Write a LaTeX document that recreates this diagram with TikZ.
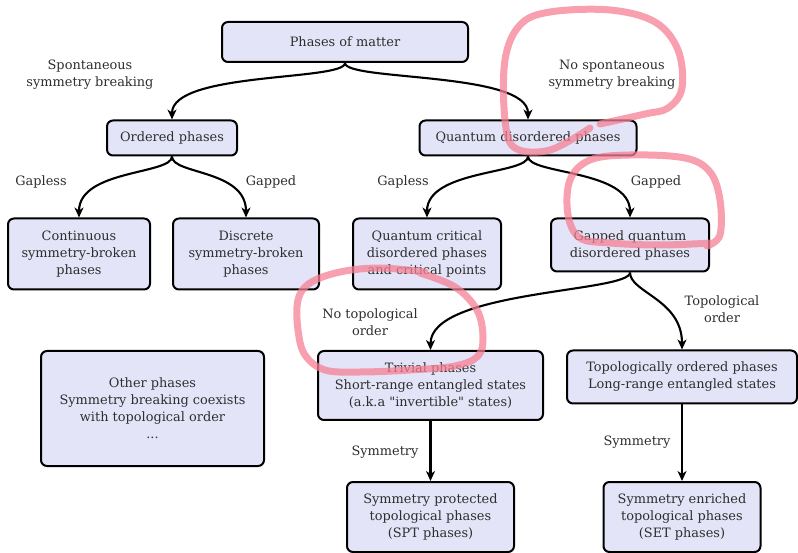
\documentclass[tikz,border=0pt]{standalone}
\usepackage{fontspec}
\setmainfont{DejaVu Serif}[Ligatures=TeXOff]
\usetikzlibrary{arrows.meta}
\definecolor{phasefill}{RGB}{228,228,248}
\definecolor{scribble}{RGB}{245,128,148}
\tikzset{
  phase/.style={draw, line width=2pt, rounded corners=6pt, fill=phasefill,
    align=center, text=black!82, font=\fontsize{12.9}{17}\selectfont},
  lbl/.style={align=center, text=black!82, font=\fontsize{12.9}{17}\selectfont},
  flow/.style={-{Stealth[length=10pt,width=9pt,inset=3pt]}, line width=2.1pt},
  mark pen/.style={scribble, opacity=0.75, line width=7pt, line cap=round, line join=round},
}
\begin{document}
\begin{tikzpicture}[x=1pt, y=1pt]
  \useasboundingbox (0,0) rectangle (798,552);

  % Phases
  \node[phase, minimum width=246pt, minimum height=40pt] (matter) at (345,510) {Phases of matter};
  \node[phase, minimum width=130pt, minimum height=35pt] (ordered) at (172,414) {Ordered phases};
  \node[phase, minimum width=217pt, minimum height=35pt] (qdis) at (528,414) {Quantum disordered phases};
  \node[phase, minimum width=142pt, minimum height=71pt] (cont) at (79,298) {Continuous\\symmetry-broken\\phases};
  \node[phase, minimum width=146pt, minimum height=71pt] (disc) at (246,298) {Discrete\\symmetry-broken\\phases};
  \node[phase, minimum width=148pt, minimum height=71pt] (qcrit) at (427,298) {Quantum critical\\disordered phases\\and critical points};
  \node[phase, minimum width=158pt, minimum height=53pt] (gapq) at (630,307) {Gapped quantum\\disordered phases};
  \node[phase, minimum width=223pt, minimum height=115pt] (other) at (152.5,143.5) {Other phases\\Symmetry breaking coexists\\with topological order\\...};
  \node[phase, minimum width=225pt, minimum height=69pt] (trivial) at (430.5,166.5) {Trivial phases\\Short-range entangled states\\(a.k.a "invertible" states)};
  \node[phase, minimum width=230pt, minimum height=53pt] (topo) at (682,175) {Topologically ordered phases\\Long-range entangled states};
  \node[phase, minimum width=167pt, minimum height=70pt] (spt) at (430.5,35) {Symmetry protected\\topological phases\\(SPT phases)};
  \node[phase, minimum width=157pt, minimum height=70pt] (set) at (682,35) {Symmetry enriched\\topological phases\\(SET phases)};

  % Labels
  \node[lbl] (ssb) at (90,477) {Spontaneous\\symmetry breaking};
  \node[lbl] (nossb) at (612,477) {No spontaneous\\symmetry breaking};
  \node[lbl] (gl1) at (41,370) {Gapless};
  \node[lbl] (gp1) at (271,370) {Gapped};
  \node[lbl] (gl2) at (403,370) {Gapless};
  \node[lbl] (gp2) at (656,370) {Gapped};
  \node[lbl] (notop) at (370,230) {No topological\\order};
  \node[lbl] (top) at (722,243) {Topological\\order};
  \node[lbl] (sym1) at (385,100) {Symmetry};
  \node[lbl] (sym2) at (637,110) {Symmetry};

  % Flow
  \draw[flow] (matter.south) .. controls +(0,-18) and +(0,48) .. (ordered.north);
  \draw[flow] (matter.south) .. controls +(0,-18) and +(0,48) .. (qdis.north);
  \draw[flow] (ordered.south) .. controls +(0,-18) and +(0,48) .. (cont.north);
  \draw[flow] (ordered.south) .. controls +(0,-18) and +(0,48) .. (disc.north);
  \draw[flow] (qdis.south) .. controls +(0,-18) and +(0,48) .. (qcrit.north);
  \draw[flow] (qdis.south) .. controls +(0,-18) and +(0,48) .. (gapq.north);
  \draw[flow] (gapq.south) .. controls +(0,-20) and +(0,60) .. (trivial.north);
  \draw[flow] (gapq.south) .. controls +(0,-20) and +(0,50) .. (topo.north);
  \draw[flow] (trivial) -- (spt);
  \draw[flow] (topo) -- (set);

  % Hand-drawn marks
  \draw[mark pen] plot[smooth, tension=0.6] coordinates {(590,424) (550,402) (515,404) (505,432) (505,492)
    (520,527) (550,540) (610,542) (655,530) (678,502) (682,464) (668,444) (645,438) (600,428)};
  \draw[mark pen] plot[smooth, tension=0.6] coordinates {(707,306) (720,317) (720,352) (710,380) (685,394)
    (630,397) (590,392) (570,372) (568,337) (580,314) (610,309) (660,307) (712,309)};
  \draw[mark pen] plot[smooth, tension=0.6] coordinates {(420,279) (455,265) (477,242) (483,215) (478,196)
    (455,186) (410,182) (360,180) (325,182) (305,197) (298,222) (298,252) (310,269) (340,280) (380,284) (425,280)};
\end{tikzpicture}
\end{document}
